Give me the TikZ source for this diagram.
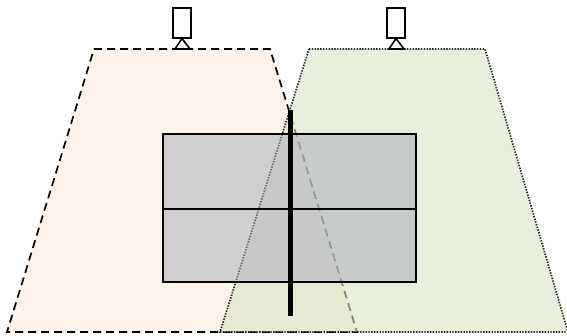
\documentclass[tikz,border=0pt]{standalone}
\definecolor{fovorange}{RGB}{254,243,235}
\definecolor{fovgreen}{RGB}{217,228,197}
\definecolor{boxgray}{RGB}{165,170,185}
\tikzset{
  fovA/.style={fill=fovorange,draw=black,line width=1.7pt,dash pattern=on 8pt off 5pt},
  fovB/.style={fill=fovgreen,fill opacity=.58,draw=black,draw opacity=.85,line width=1.7pt,dash pattern=on 1.4pt off 1.4pt},
  panel/.style={fill=boxgray,fill opacity=.5,draw=black,line width=1.6pt},
  post/.style={draw=black,line width=4.5pt},
  camerabody/.style={draw=black,fill=white,line width=1.6pt,inner sep=0pt,minimum width=18pt,minimum height=29.5pt},
  cameramount/.style={draw=black,fill=white,line width=1.6pt,line join=miter}
}
\begin{document}
\begin{tikzpicture}[x=1pt,y=-1pt]
\useasboundingbox (0,0) rectangle (567,336);
\draw[fovA] (94,49) -- (270,49) -- (357,332) -- (7,332) -- cycle;
\draw[fovB] (309,49) -- (485,49) -- (568,332) -- (220,332) -- cycle;
\draw[panel] (163,134) rectangle (416,282);
\coordinate (ml) at (163,209);
\coordinate (mr) at (416,209);
\draw[line width=1.6pt] (ml) -- (mr);
\coordinate (pt) at (290.5,110);
\coordinate (pb) at (290.5,316);
\draw[post] (pt) -- (pb);
\node[camerabody] (c1) at (182,23) {};
\node[camerabody] (c2) at (396,23) {};
\draw[cameramount] (c1.south) -- (175,49) -- (190,49) -- cycle;
\draw[cameramount] (c2.south) -- (389,49) -- (404,49) -- cycle;
\end{tikzpicture}
\end{document}
